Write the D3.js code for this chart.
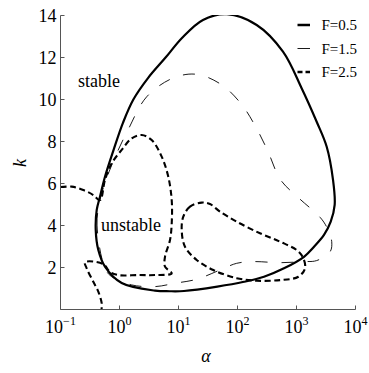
<!DOCTYPE html>
<html>
<head>
<meta charset="utf-8">
<script src="https://cdn.jsdelivr.net/npm/d3@7"></script>
<style>
  body { margin: 0; background: #fff; }
  text { font-family: "Liberation Serif", "DejaVu Serif", serif; fill: #000; }
</style>
</head>
<body>
<svg id="chart" width="369" height="373"></svg>
<script>
// curves as [log10(alpha), k]
var curveF05 = [
  [-0.403, 3.79], [-0.386, 4.74], [-0.331, 5.37], [-0.246, 6.32], [-0.100, 7.60],
  [0.060, 8.90], [0.235, 10.0], [0.483, 11.02], [0.788, 12.02], [1.059, 12.93],
  [1.415, 13.79], [1.82, 14.06], [2.325, 13.55], [2.771, 12.28], [3.085, 10.55],
  [3.342, 8.94], [3.512, 7.75], [3.619, 6.17], [3.647, 4.98], [3.580, 4.18],
  [3.466, 3.55], [3.297, 2.99], [3.127, 2.51], [2.788, 1.96], [2.449, 1.56],
  [2.110, 1.32], [1.658, 1.09], [1.093, 0.88], [0.85, 0.87], [0.602, 0.90],
  [0.037, 1.26], [-0.246, 2.04], [-0.359, 2.83]
];
var curveF15 = [
  [-0.246, 1.96], [-0.381, 4.02], [-0.331, 5.21], [-0.229, 6.17], [-0.059, 7.36],
  [0.144, 8.55], [0.461, 10.13], [0.907, 11.02], [1.308, 11.20], [1.737, 10.69],
  [2.076, 9.74], [2.308, 8.70], [2.505, 7.60], [2.732, 6.17], [3.042, 5.30],
  [3.403, 4.38], [3.522, 3.87], [3.597, 3.23], [3.568, 2.74], [3.342, 2.33],
  [3.115, 2.28], [2.720, 2.23], [2.268, 2.28], [1.986, 2.20], [1.703, 1.88],
  [1.308, 1.44], [0.941, 1.25], [0.602, 1.09], [0.207, 1.17], [-0.132, 1.56]
];
var curveF25a = [
  [-1.0, 5.83], [-0.810, 5.85], [-0.614, 5.69], [-0.444, 5.45], [-0.331, 5.21],
  [-0.246, 6.17], [-0.132, 6.96], [0.037, 7.60], [0.207, 8.15], [0.376, 8.31],
  [0.546, 8.07], [0.715, 7.28], [0.827, 6.32], [0.885, 5.21], [0.885, 4.10],
  [0.856, 3.31], [0.771, 2.51], [0.771, 2.04], [0.885, 1.72], [0.602, 1.64],
  [0.319, 1.64], [-0.020, 1.64], [-0.161, 1.79], [-0.280, 2.17], [-0.585, 2.25],
  [-0.556, 1.96], [-0.444, 1.32], [-0.359, 0.85], [-0.302, 0.30], [-0.305, 0.0]
];
var curveF25b = [
  [1.393, 5.09], [1.195, 4.90], [1.081, 4.42], [1.054, 3.79], [1.110, 2.99],
  [1.308, 2.36], [1.590, 1.88], [1.986, 1.49], [2.325, 1.37], [2.720, 1.40],
  [3.031, 1.56], [3.144, 1.96], [3.115, 2.44], [3.003, 2.83], [2.720, 3.23],
  [2.381, 3.63], [1.986, 4.18], [1.703, 4.66], [1.534, 5.02]
];
var xTicks = [0.1, 1, 10, 100, 1000, 10000];
var xTickExp = ["\u22121", "0", "1", "2", "3", "4"];
var yTicks = [2, 4, 6, 8, 10, 12, 14];
var legendNames = ["F=0.5", "F=1.5", "F=2.5"];

var svg = d3.select("#chart");
var pLeft = 60.5, pRight = 355.5, pTop = 15.5, pBottom = 309.5;

var x = d3.scaleLog().domain([0.1, 10000]).range([pLeft, pRight]);
var y = d3.scaleLinear().domain([0, 14]).range([pBottom, pTop]);

svg.append("defs").append("clipPath").attr("id", "plot")
  .append("rect").attr("x", pLeft).attr("y", pTop - 0.5)
  .attr("width", pRight - pLeft).attr("height", pBottom - pTop + 0.5);

var line = d3.line()
  .x(function (d) { return x(Math.pow(10, d[0])); })
  .y(function (d) { return y(d[1]); });

var g = svg.append("g").attr("clip-path", "url(#plot)");

var styles = [
  {data: curveF05, closed: true, width: 2.2, dash: null},
  {data: curveF15, closed: true, width: 0.9, dash: "12,14"},
  {data: curveF25a, closed: false, width: 2.1, dash: "6,3.5"},
  {data: curveF25b, closed: true, width: 2.1, dash: "6,3.5"}
];
styles.forEach(function (s) {
  g.append("path")
    .attr("d", line.curve(s.closed ? d3.curveCatmullRomClosed.alpha(0.5) : d3.curveCatmullRom.alpha(0.5))(s.data))
    .attr("fill", "none")
    .attr("stroke", "#000")
    .attr("stroke-width", s.width)
    .attr("stroke-dasharray", s.dash)
    .attr("stroke-linejoin", "round");
});

// axes
var axisColor = "#555";
svg.append("line").attr("x1", pLeft).attr("x2", pLeft).attr("y1", pTop).attr("y2", pBottom)
  .attr("stroke", axisColor);
svg.append("line").attr("x1", pLeft).attr("x2", pRight).attr("y1", pBottom).attr("y2", pBottom)
  .attr("stroke", axisColor);

svg.selectAll(".yt").data(yTicks).enter().append("line")
  .attr("x1", pLeft).attr("x2", pLeft + 4)
  .attr("y1", function (d) { return y(d); }).attr("y2", function (d) { return y(d); })
  .attr("stroke", axisColor);
svg.selectAll(".yl").data(yTicks).enter().append("text")
  .attr("x", pLeft - 4).attr("y", function (d) { return y(d); })
  .attr("dy", "0.35em").attr("text-anchor", "end")
  .attr("font-size", 18)
  .text(function (d) { return d; });

svg.selectAll(".xt").data(xTicks).enter().append("line")
  .attr("x1", function (d) { return x(d); }).attr("x2", function (d) { return x(d); })
  .attr("y1", pBottom).attr("y2", pBottom - 4)
  .attr("stroke", axisColor);
var xl = svg.selectAll(".xl").data(xTicks).enter().append("text")
  .attr("x", function (d) { return x(d); }).attr("y", 333)
  .attr("text-anchor", "middle")
  .attr("font-size", 18);
xl.append("tspan").text("10");
xl.append("tspan").attr("dy", -8).attr("font-size", 12)
  .text(function (d, i) { return xTickExp[i]; });

svg.append("text")
  .attr("transform", "translate(26,163) rotate(-90)")
  .attr("text-anchor", "middle")
  .attr("font-size", 18).attr("font-style", "italic")
  .text("k");
svg.append("text")
  .attr("x", 206).attr("y", 362)
  .attr("text-anchor", "middle")
  .attr("font-size", 18).attr("font-style", "italic")
  .text("\u03b1");

svg.append("text").attr("x", 78).attr("y", 87).attr("font-size", 18).text("stable");
svg.append("text").attr("x", 101).attr("y", 231).attr("font-size", 18).text("unstable");

// legend
var leg = svg.selectAll(".leg").data(legendNames).enter().append("g")
  .attr("transform", function (d, i) { return "translate(297.5," + (25 + i * 23.5) + ")"; });
leg.append("line")
  .attr("x1", 0).attr("x2", 12.5)
  .attr("stroke", "#000")
  .attr("stroke-width", function (d, i) { return [2.5, 0.9, 2.5][i]; })
  .attr("stroke-dasharray", function (d, i) { return i === 2 ? "5,3" : null; });
leg.append("text")
  .attr("x", 24).attr("dy", "0.35em")
  .attr("font-size", 15)
  .text(function (d) { return d; });
</script>
</body>
</html>
